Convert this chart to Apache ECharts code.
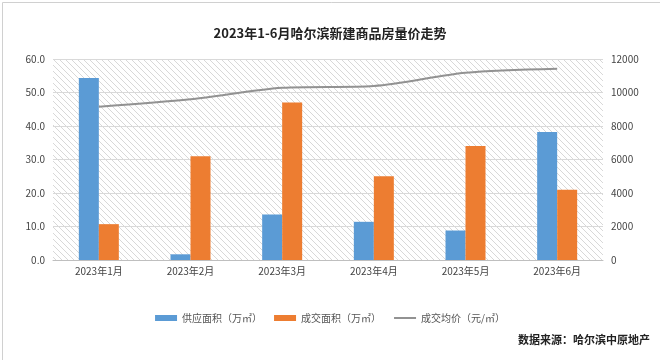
<!DOCTYPE html>
<html><head><meta charset="utf-8">
<script src="https://cdn.jsdelivr.net/npm/echarts@6/dist/echarts.min.js"></script>
<style>html,body{margin:0;padding:0;background:#fff}#c{width:660px;height:360px}</style>
</head><body><div id="c"></div>
<script>
const categories = ['2023年1月','2023年2月','2023年3月','2023年4月','2023年5月','2023年6月'];
const supplyArea = [54.3, 1.7, 13.6, 11.4, 8.8, 38.2];
const dealArea = [10.7, 31.0, 47.0, 25.0, 34.0, 21.0];
const avgPrice = [9150, 9590, 10280, 10390, 11180, 11420];
const leftTicks = {min:0, max:60, interval:10};
const rightTicks = {min:0, max:12000, interval:2000};

const pc = document.createElement('canvas');
pc.width = 6; pc.height = 6;
const g = pc.getContext('2d');
g.strokeStyle = '#d8d8d8'; g.lineWidth = 1;
g.beginPath();
g.moveTo(0,0); g.lineTo(6,6);
g.moveTo(-3,3); g.lineTo(3,9);
g.moveTo(3,-3); g.lineTo(9,3);
g.stroke();

const font = '"Noto Sans CJK SC", sans-serif';
const chart = echarts.init(document.getElementById('c'), null, {renderer:'canvas'});
chart.setOption({
  backgroundColor:'#fff',
  animation:false,
  title:{text:'2023年1-6月哈尔滨新建商品房量价走势', left:'center', top:22,
    textStyle:{fontFamily:font, fontSize:13, fontWeight:'bold', color:'#222'}},
  graphic:[
    {type:'text', right:10, top:334, style:{text:'数据来源：哈尔滨中原地产', font:'bold 11px '+font, fill:'#222'}},
    {type:'rect', left:0, top:0, shape:{width:659, height:359}, style:{fill:'none', stroke:'#d0d0d0', lineWidth:1}}
  ],
  legend:{bottom:32, left:'center', itemWidth:22, itemHeight:6, itemGap:12,
    textStyle:{fontFamily:font, fontSize:10, color:'#555'},
    data:[{name:'供应面积（万㎡）', icon:'rect'},{name:'成交面积（万㎡）', icon:'rect'},
      {name:'成交均价（元/㎡）', itemStyle:{opacity:0}}]},
  grid:{left:53, right:57, top:59, bottom:100, show:true, borderWidth:0,
    backgroundColor:{image:pc, repeat:'repeat'}},
  xAxis:{type:'category', data:categories,
    axisLine:{lineStyle:{color:'#bfbfbf'}}, axisTick:{show:false},
    axisLabel:{fontFamily:font, fontSize:10, color:'#444', margin:6}},
  yAxis:[
    {type:'value', min:leftTicks.min, max:leftTicks.max, interval:leftTicks.interval,
      axisLabel:{fontFamily:font, fontSize:10, color:'#444', formatter:v=>v.toFixed(1)},
      axisLine:{show:false}, axisTick:{show:false},
      splitLine:{lineStyle:{color:'#d9d9d9'}}},
    {type:'value', min:rightTicks.min, max:rightTicks.max, interval:rightTicks.interval,
      axisLabel:{fontFamily:font, fontSize:10, color:'#444', formatter:v=>String(v)},
      axisLine:{show:false}, axisTick:{show:false}, splitLine:{show:false}}
  ],
  series:[
    {name:'供应面积（万㎡）', type:'bar', data:supplyArea, barWidth:20, barGap:'0%',
      itemStyle:{color:'#5b9bd5'}},
    {name:'成交面积（万㎡）', type:'bar', data:dealArea, barWidth:20,
      itemStyle:{color:'#ed7d31'}},
    {name:'成交均价（元/㎡）', type:'line', yAxisIndex:1, data:avgPrice, smooth:0.3,
      symbol:'none', lineStyle:{color:'#929292', width:2}, itemStyle:{color:'#929292'}}
  ]
});
</script></body></html>
